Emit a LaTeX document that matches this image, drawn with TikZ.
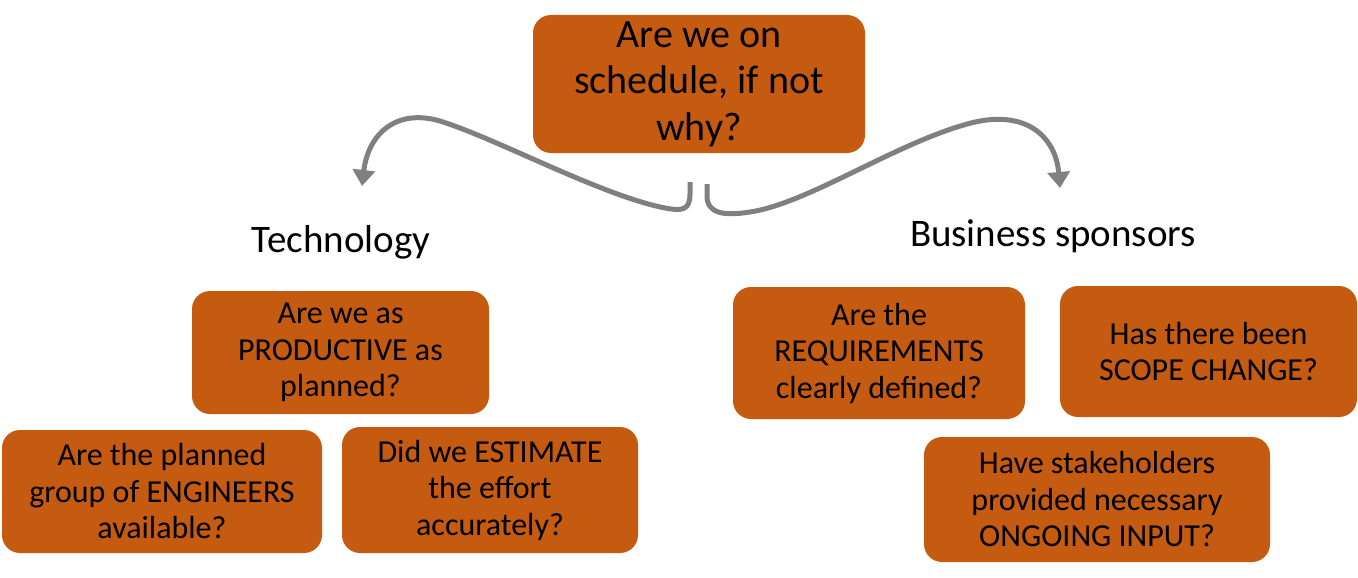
\documentclass[tikz,border=0pt]{standalone}
\usepackage{fontspec}
\setmainfont{Carlito}
\usetikzlibrary{arrows.meta}
\definecolor{boxor}{HTML}{C55A11}
\definecolor{arrgray}{HTML}{808080}
\begin{document}
\begin{tikzpicture}[x=1pt,y=-1pt,
  qbox/.style={fill=boxor,rounded corners=18pt,align=center,inner sep=0pt,
    font=\fontsize{32}{36.5}\selectfont,text=black},
  head/.style={font=\fontsize{39}{44}\selectfont,text=black,inner sep=0pt},
  curv/.style={draw=arrgray,line width=5pt,-{Triangle[width=22pt,length=16pt]}}]
\useasboundingbox (0,0) rectangle (1358,578);
\node[qbox,minimum width=332pt,minimum height=138pt,font=\fontsize{40}{46.5}\selectfont] (top) at (699,84) {Are we on\\schedule, if not\\why?};
\node[head] (tech) at (341,242) {Technology};
\node[head] (bus) at (1053,236) {Business sponsors};
\node[qbox,minimum width=297pt,minimum height=123pt] (prod) at (340.5,352.5) {Are we as\\PRODUCTIVE as\\planned?};
\node[qbox,minimum width=320pt,minimum height=123pt] (eng) at (162,491.5) {Are the planned\\group of ENGINEERS\\available?};
\node[qbox,minimum width=296pt,minimum height=126pt] (est) at (490,490) {Did we ESTIMATE\\the effort\\accurately?};
\node[qbox,minimum width=292pt,minimum height=132pt] (req) at (879,353) {Are the\\REQUIREMENTS\\clearly defined?};
\node[qbox,minimum width=297pt,minimum height=131pt] (scope) at (1208.5,351.5) {Has there been\\SCOPE CHANGE?};
\node[qbox,minimum width=346pt,minimum height=125pt] (ongo) at (1097,499.5) {Have stakeholders\\provided necessary\\ONGOING INPUT?};
\coordinate (ls) at (690,182);
\coordinate (rs) at (707,184);
\coordinate (lt) at (362,186);
\coordinate (rt) at (1060,188);
\draw[curv] (ls) -- (690,194) .. controls (690,211) and (681,211) .. (665,208)
  .. controls (600,195) and (500,140) .. (440,121)
  .. controls (395,108) and (368,135) .. (lt);
\draw[curv] (rs) -- (707,196) .. controls (707,214) and (725,216) .. (750,212)
  .. controls (810,203) and (900,140) .. (975,122)
  .. controls (1030,110) and (1056,140) .. (rt);
\end{tikzpicture}
\end{document}
